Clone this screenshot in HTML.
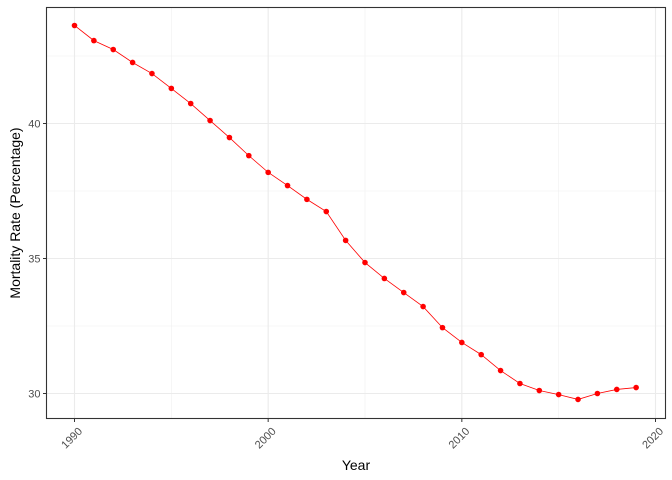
<!DOCTYPE html>
<html><head><meta charset="utf-8"><style>body{margin:0;background:#fff}svg{display:block;font-family:"Liberation Sans",sans-serif}</style></head>
<body>
<svg id="chart" width="672" height="480"></svg>
<script>
const years=[1990,1991,1992,1993,1994,1995,1996,1997,1998,1999,2000,2001,2002,2003,2004,2005,2006,2007,2008,2009,2010,2011,2012,2013,2014,2015,2016,2017,2018,2019];
const rates=[43.63,43.07,42.74,42.26,41.85,41.30,40.74,40.11,39.48,38.81,38.19,37.70,37.19,36.74,35.67,34.85,34.26,33.74,33.22,32.44,31.89,31.44,30.85,30.37,30.11,29.96,29.78,30.0,30.15,30.22];
const xTicks=[1990,2000,2010,2020];
const yTicks=[30,35,40];
const xMinor=[1995,2005,2015];
const yMinor=[32.5,37.5,42.5];
const NS="http://www.w3.org/2000/svg";
const svg=document.getElementById('chart');
const L=46.5,R=665.5,T=7.5,B=418.5;
const x=v=>74.5+(v-1990)*(581/30);
const y=v=>393.5-(v-30)*27;
function mk(t,a,p){const e=document.createElementNS(NS,t);for(const k in a)e.setAttribute(k,a[k]);(p||svg).appendChild(e);return e;}
xMinor.forEach(v=>{const e=mk('line',{x1:x(v),x2:x(v),y1:T,y2:B,stroke:'#f0f0f0','stroke-width':0.6});

});
yMinor.forEach(v=>{const e=mk('line',{x1:L,x2:R,y1:y(v),y2:y(v),stroke:'#f0f0f0','stroke-width':0.6});

});
xTicks.forEach(v=>{const e=mk('line',{x1:x(v),x2:x(v),y1:T,y2:B,stroke:'#ebebeb','stroke-width':1.1});


const t=mk('line',{x1:x(v),x2:x(v),y1:B,y2:B+3.5,stroke:'#333'});


const l=mk('text',{x:x(v)+3,y:B+8,'font-size':11,fill:'#4d4d4d','text-anchor':'end',transform:`rotate(-45 ${x(v)+3} ${B+8})`,dy:'0.7em'});
l.textContent=v;

});
yTicks.forEach(v=>{const e=mk('line',{x1:L,x2:R,y1:y(v),y2:y(v),stroke:'#ebebeb','stroke-width':1.1});


const t=mk('line',{x1:L-3.5,x2:L,y1:y(v),y2:y(v),stroke:'#333'});


const l=mk('text',{x:L-6,y:y(v)+4,'font-size':11,fill:'#4d4d4d','text-anchor':'end'});
l.textContent=v;

});
const line=mk('polyline',{points:years.map((d,i)=>x(d)+','+y(rates[i])).join(' '),fill:'none',stroke:'#ff0000','stroke-width':0.8});


years.forEach((d,i)=>{const c=mk('circle',{cx:x(d),cy:y(rates[i]),r:2.8,fill:'#ff0000'});

});
const p=mk('rect',{x:L,y:T,width:R-L,height:B-T,fill:'none',stroke:'#333','stroke-width':1.1});


const xt=mk('text',{x:(L+R)/2,y:470,'font-size':14,fill:'#000','text-anchor':'middle'});
xt.textContent='Year';


const yt=mk('text',{x:20,y:(T+B)/2,'font-size':14,fill:'#000','text-anchor':'middle',transform:`rotate(-90 20 ${(T+B)/2})`});
yt.textContent='Mortality Rate (Percentage)';


</script>
</body></html>
